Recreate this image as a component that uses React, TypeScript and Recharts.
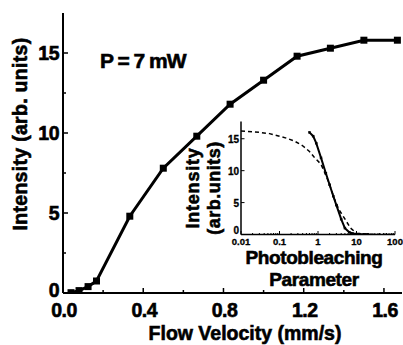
import React from "react";
import {Label, Line, LineChart, XAxis, YAxis} from "recharts";

// main panel: intensity vs flow velocity (P = 7 mW)
const flowVelocity = [0.04, 0.08, 0.125, 0.167, 0.333, 0.5, 0.667, 0.833, 1.0, 1.167, 1.333, 1.5, 1.667];
const intensity = [0.02, 0.15, 0.4, 0.75, 4.8, 7.8, 9.8, 11.8, 13.3, 14.8, 15.3, 15.8, 15.8];

const xTicks = [0, 0.2, 0.4, 0.6, 0.8, 1.0, 1.2, 1.4, 1.6];
const xMajor = [0, 0.4, 0.8, 1.2, 1.6];
const yTicks = [0, 2.5, 5, 7.5, 10, 12.5, 15];
const yMajor = [0, 5, 10, 15];

// inset: intensity vs photobleaching parameter (log x)
const bleachMeasured = [0.6, 0.75, 0.9, 1.2, 1.6, 2.0, 2.5, 3.0, 4.0, 5.0, 6.5, 8.0, 12, 20];
const intensityMeasured = [16.0, 15.4, 14.3, 12.0, 9.6, 7.8, 6.0, 4.6, 2.4, 1.0, 0.35, 0.15, 0.05, 0.02];
const bleachModel = [0.01, 0.03, 0.055, 0.1, 0.15, 0.25, 0.4, 0.6, 0.8, 1.2, 1.6, 2.0, 2.7, 3.5, 4.8, 7, 10, 20, 100];
const intensityModel = [16.2, 16.0, 15.8, 15.4, 15.1, 14.6, 13.9, 13.0, 12.1, 11.0, 9.3, 7.8, 5.5, 3.9, 2.6, 1.0, 0.2, 0.05, 0];

const insetXMajor = [0.01, 0.1, 1, 10, 100];
const insetXMinor = [0.01, 0.1, 1, 10].flatMap((d) => [2, 3, 4, 5, 6, 7, 8, 9].map((m) => +(d * m).toPrecision(2)));
const insetYTicks = [0, 5, 10, 15];

const mainData = flowVelocity.map((v, i) => ({v, intensity: intensity[i]}));
const measuredData = bleachMeasured.map((p, i) => ({p, intensity: intensityMeasured[i]}));
const modelData = bleachModel.map((p, i) => ({p, intensity: intensityModel[i]}));

const FONT = "'Liberation Sans', Arial, sans-serif";
const boldText = {fontFamily: FONT, fontWeight: "bold" as const, fill: "#000", stroke: "#000", strokeWidth: 0.6};

const MainXTick = ({x, y, payload}: any) => {
    const major = xMajor.includes(payload.value);
    return (
        <g>
            <line x1={x} x2={x} y1={y} y2={y - (major ? 5 : 3)} stroke="#000" strokeWidth={1.5}/>
            {major && (
                <text x={x + 1} y={y + 23.5} textAnchor="middle" fontSize={19.5} letterSpacing={-0.5} {...boldText}>
                    {payload.value.toFixed(1)}
                </text>
            )}
        </g>
    );
};

const MainYTick = ({x, y, payload}: any) => {
    const major = yMajor.includes(payload.value);
    return (
        <g>
            <line x1={x} x2={x + (major ? 5 : 3)} y1={y} y2={y} stroke="#000" strokeWidth={1.5}/>
            {major && (
                <text x={x - 4} y={y + (payload.value === 0 ? 4 : 7)} textAnchor="end" fontSize={19.5}
                      letterSpacing={-0.5} {...boldText}>
                    {payload.value}
                </text>
            )}
        </g>
    );
};

const InsetXTick = ({x, y, payload}: any) => {
    const major = insetXMajor.includes(payload.value);
    return (
        <g>
            <line x1={x} x2={x} y1={y} y2={y - (major ? 3.5 : 1.5)} stroke="#000" strokeWidth={1}/>
            {major && (
                <text x={x} y={y + 10.5} textAnchor="middle" fontSize={9.5} {...boldText} strokeWidth={0.3}>
                    {payload.value}
                </text>
            )}
        </g>
    );
};

const InsetYTick = ({x, y, payload}: any) => (
    <g>
        <line x1={x} x2={x + 3.5} y1={y} y2={y} stroke="#000" strokeWidth={1}/>
        <text x={x - 2} y={y + (payload.value === 0 ? -1 : 4)} textAnchor="end" fontSize={10} {...boldText}
              strokeWidth={0.3}>
            {payload.value}
        </text>
    </g>
);

const SquareDot = ({cx, cy, size}: any) => (
    <rect x={cx - size / 2} y={cy - size / 2} width={size} height={size} fill="#000"/>
);

export default function App() {
    return (
        <div style={{position: "absolute", left: 0, top: 0, width: 403, height: 345, background: "#fff"}}>
            <LineChart width={403} height={345} data={mainData} margin={{top: 13, right: 1, bottom: 0, left: 0}}>
                <XAxis dataKey="v" type="number" domain={[0, 1.69]} ticks={xTicks} allowDataOverflow
                       height={52} tickSize={0} tickMargin={0} tickLine={false}
                       axisLine={{stroke: "#000", strokeWidth: 2}} tick={<MainXTick/>} interval={0}>
                    <Label content={() => (
                        <text x={245} y={339.5} textAnchor="middle" fontSize={19.5} {...boldText}>
                            Flow Velocity (mm/s)
                        </text>
                    )}/>
                </XAxis>
                <XAxis xAxisId="top" orientation="top" type="number" domain={[0, 1]} height={0}
                       tick={false} tickLine={false} axisLine={{stroke: "#000", strokeWidth: 2}}/>
                <YAxis type="number" domain={[0, 17.5]} ticks={yTicks} allowDataOverflow width={63}
                       tickSize={0} tickMargin={0} tickLine={false}
                       axisLine={{stroke: "#000", strokeWidth: 2}} tick={<MainYTick/>} interval={0}>
                    <Label content={() => (
                        <text x={27} y={134} transform="rotate(-90 27 134)" textAnchor="middle" fontSize={19.5}
                              letterSpacing={0.3} {...boldText}>
                            Intensity (arb. units)
                        </text>
                    )}/>
                </YAxis>
                <YAxis yAxisId="right" orientation="right" type="number" domain={[0, 1]} width={0}
                       tick={false} tickLine={false} axisLine={{stroke: "#000", strokeWidth: 2}}/>
                <Line dataKey="intensity" stroke="#000" strokeWidth={3} isAnimationActive={false}
                      dot={<SquareDot size={7}/>} activeDot={false}/>
            </LineChart>

            <svg width={403} height={345} style={{position: "absolute", left: 0, top: 0, pointerEvents: "none"}}>
                <text x={100} y={68} fontSize={21} letterSpacing={-1} {...boldText}>P = 7 mW</text>
            </svg>

            <div style={{position: "absolute", left: 170, top: 110}}>
                <LineChart width={233} height={190} margin={{top: 11.5, right: 8, bottom: 0, left: 0}}>
                    <XAxis dataKey="p" type="number" scale="log" domain={[0.01, 100]} allowDataOverflow
                           ticks={[...insetXMajor, ...insetXMinor]} interval={0} height={65.5}
                           tickSize={0} tickMargin={0} tickLine={false}
                           axisLine={{stroke: "#000", strokeWidth: 1.5}} tick={<InsetXTick/>}>
                        <Label content={() => (
                            <text textAnchor="middle" fontSize={19} letterSpacing={-0.4} {...boldText}>
                                <tspan x={144} y={153.5}>Photobleaching</tspan>
                                <tspan x={144} y={175.5}>Parameter</tspan>
                            </text>
                        )}/>
                    </XAxis>
                    <XAxis xAxisId="top" orientation="top" type="number" domain={[0, 1]} height={0}
                           tick={false} tickLine={false} axisLine={{stroke: "#000", strokeWidth: 1.5}}/>
                    <YAxis type="number" domain={[0, 17.7]} ticks={insetYTicks} allowDataOverflow width={71}
                           tickSize={0} tickMargin={0} tickLine={false} interval={0}
                           axisLine={{stroke: "#000", strokeWidth: 1.5}} tick={<InsetYTick/>}>
                        <Label content={() => (
                            <text textAnchor="middle" fontSize={18} transform="rotate(-90 0 0)" {...boldText}>
                                <tspan x={-78} y={29} letterSpacing={0.8}>Intensity</tspan>
                                <tspan x={-78} y={50} letterSpacing={0.5}>(arb.units)</tspan>
                            </text>
                        )}/>
                    </YAxis>
                    <YAxis yAxisId="right" orientation="right" type="number" domain={[0, 1]} width={0}
                           tick={false} tickLine={false} axisLine={{stroke: "#000", strokeWidth: 1.5}}/>
                    <Line data={modelData} dataKey="intensity" stroke="#000" strokeWidth={1.5}
                          strokeDasharray="4 3" dot={false} activeDot={false} isAnimationActive={false}/>
                    <Line data={measuredData} dataKey="intensity" stroke="#000" strokeWidth={2}
                          dot={<SquareDot size={2.5}/>} activeDot={false} isAnimationActive={false}/>
                </LineChart>
            </div>
        </div>
    );
}
